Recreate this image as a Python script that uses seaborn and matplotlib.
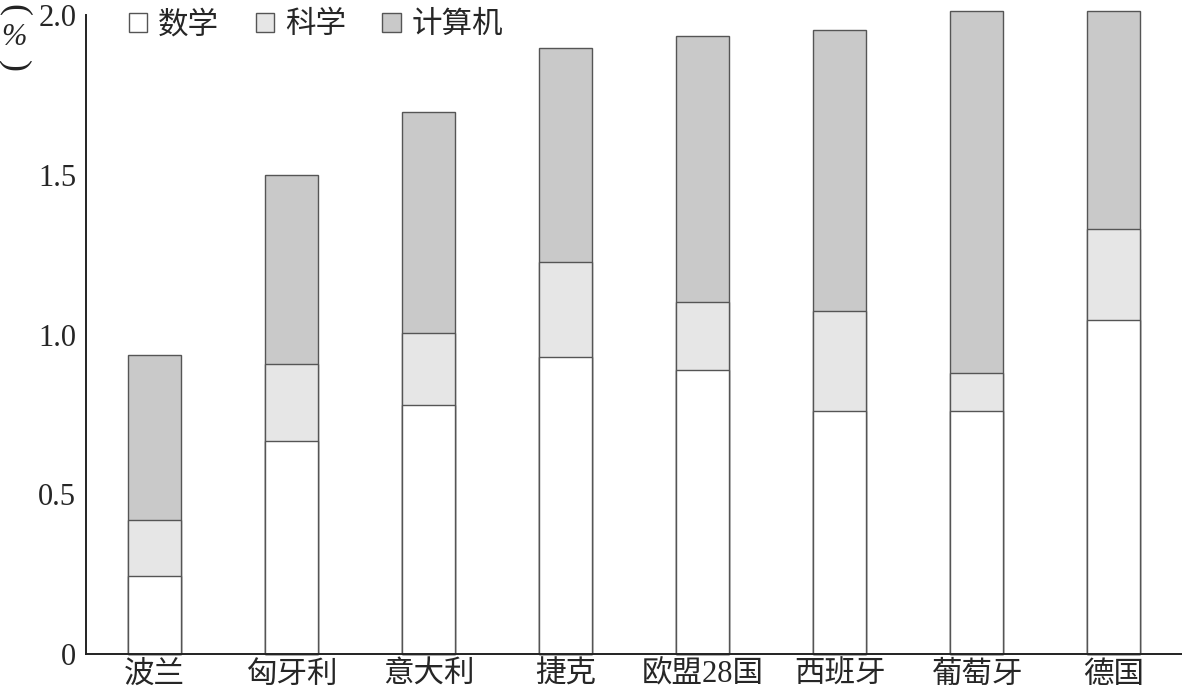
import pandas as pd
import matplotlib
matplotlib.use("Agg")
import matplotlib.pyplot as plt
import seaborn as sns
from matplotlib.patches import Patch

# 数据
countries = ["波兰", "匈牙利", "意大利", "捷克", "欧盟28国", "西班牙", "葡萄牙", "德国"]
math_vals = [0.244, 0.666, 0.779, 0.929, 0.889, 0.761, 0.761, 1.044]
sci_vals = [0.175, 0.243, 0.225, 0.299, 0.214, 0.313, 0.118, 0.285]
comp_vals = [0.517, 0.589, 0.692, 0.669, 0.831, 0.879, 1.134, 0.684]
series_names = ["数学", "科学", "计算机"]
series_colors = ["#ffffff", "#e6e6e6", "#c9c9c9"]
ytick_vals = [0, 0.5, 1.0, 1.5, 2.0]
ytick_labels = ["0", "0.5", "1.0", "1.5", "2.0"]

df = pd.DataFrame({"国家": countries, "数学": math_vals, "科学": sci_vals, "计算机": comp_vals})
df["数学+科学"] = df["数学"] + df["科学"]
df["合计"] = df["数学+科学"] + df["计算机"]

sns.set_style("white")
plt.rcParams["font.family"] = ["Liberation Serif", "Noto Sans CJK SC", "DejaVu Sans"]

fig = plt.figure(figsize=(11.82, 6.96), dpi=100)
ax = fig.add_axes([0.0728, 0.0603, 0.9272, 0.9273])

edge = "#555555"
bw = 0.387
# 叠加绘制：先画总高，再画下层
sns.barplot(data=df, x="国家", y="合计", color=series_colors[2], width=bw,
            edgecolor=edge, linewidth=1.0, saturation=1, ax=ax)
sns.barplot(data=df, x="国家", y="数学+科学", color=series_colors[1], width=bw,
            edgecolor=edge, linewidth=1.0, saturation=1, ax=ax)
sns.barplot(data=df, x="国家", y="数学", color=series_colors[0], width=bw,
            edgecolor=edge, linewidth=1.0, saturation=1, ax=ax)

ax.set_xlim(-0.5, len(countries) - 0.5)
ax.set_ylim(0, 2.02)
ax.spines["left"].set_bounds(0, 2.0)
for s in ["top", "right"]:
    ax.spines[s].set_visible(False)
for s in ["left", "bottom"]:
    ax.spines[s].set_color("#222222")
    ax.spines[s].set_linewidth(1.4)

ax.set_xlabel("")
ax.set_ylabel("")
ax.set_yticks(ytick_vals)
ax.set_yticklabels(ytick_labels)
ax.tick_params(axis="y", direction="in", length=7, width=1.4, color="#222222",
               labelsize=22, pad=7)
ax.set_xticks(range(len(countries)))
ax.set_xticklabels(countries)
ax.tick_params(axis="x", which="major", length=0, labelsize=22, pad=5)
ax.set_xticks([i + 0.5 for i in range(len(countries))], minor=True)
ax.tick_params(axis="x", which="minor", direction="in", length=7, width=1.4, color="#222222")
for b in ax.patches:
    b.set_clip_on(False)

handles = [Patch(facecolor=c, edgecolor=edge, linewidth=1.0) for c in series_colors]
ax.legend(handles, series_names, ncol=3, frameon=False, fontsize=22,
          loc="upper left", bbox_to_anchor=(0.028, 1.015),
          handlelength=0.6, handleheight=0.6, handletextpad=0.35,
          columnspacing=1.2, borderaxespad=0)

# 纵向单位（%）
fig.text(0.012, 0.986, "(", fontsize=26, rotation=-90, ha="center", va="center",
         color="#222222")
fig.text(0.012, 0.946, "%", fontsize=22, ha="center", va="center", style="italic")
fig.text(0.012, 0.905, ")", fontsize=26, rotation=-90, ha="center", va="center",
         color="#222222")

fig.savefig("out.png", dpi=100)
